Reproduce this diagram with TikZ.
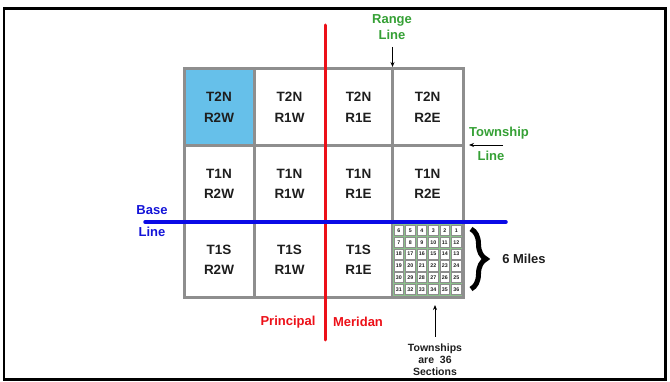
\documentclass[tikz,border=0pt]{standalone}
\usepackage{fontspec}
\setmainfont{Liberation Sans}
\usetikzlibrary{decorations.pathreplacing,arrows.meta}
\definecolor{gridgray}{HTML}{8E8E8E}
\definecolor{cellblue}{HTML}{66C0EA}
\definecolor{lblgreen}{HTML}{35A035}
\definecolor{lblblue}{HTML}{1414D8}
\definecolor{lineblue}{HTML}{0A0AE6}
\definecolor{linered}{HTML}{EC1018}
\definecolor{secgreen}{HTML}{3E9A3E}
\definecolor{txt}{HTML}{1E1E1E}
\tikzset{
  cell/.style={draw=gridgray, line width=3pt, fill=white, inner sep=0pt,
    align=center, text=txt, font=\bfseries\fontsize{13.5}{20.5}\selectfont},
  lbl/.style={inner sep=0pt, font=\bfseries\fontsize{13}{16}\selectfont},
  secbox/.style={draw=gridgray, line width=0.8pt, fill=white, inner sep=0pt,
    minimum width=9.6pt, minimum height=10.2pt,
    font=\bfseries\fontsize{5.3}{5.3}\selectfont, text=txt},
  pointer/.style={-{Stealth[length=5pt,width=4pt]}, line width=0.8pt, black},
}
\begin{document}
\begin{tikzpicture}[x=1pt,y=-1pt]
\useasboundingbox (0,0) rectangle (670,382);
% outer frame
\draw[line width=2.5pt, black] (4,8.5) rectangle (665.5,379.5);

% township cells (columns 184,254,325,392,463; rows 69,146,222,298)
\node[cell, fill=cellblue, minimum width=70pt, minimum height=77pt] (a1) at (219,107.5) {T2N\\R2W};
\node[cell, minimum width=71pt, minimum height=77pt] (a2) at (289.5,107.5) {T2N\\R1W};
\node[cell, minimum width=67pt, minimum height=77pt] (a3) at (358.5,107.5) {T2N\\R1E};
\node[cell, minimum width=71pt, minimum height=77pt] (a4) at (427.5,107.5) {T2N\\R2E};
\node[cell, minimum width=70pt, minimum height=76pt] (b1) at (219,184) {T1N\\R2W};
\node[cell, minimum width=71pt, minimum height=76pt] (b2) at (289.5,184) {T1N\\R1W};
\node[cell, minimum width=67pt, minimum height=76pt] (b3) at (358.5,184) {T1N\\R1E};
\node[cell, minimum width=71pt, minimum height=76pt] (b4) at (427.5,184) {T1N\\R2E};
\node[cell, minimum width=70pt, minimum height=76pt] (c1) at (219,260) {T1S\\R2W};
\node[cell, minimum width=71pt, minimum height=76pt] (c2) at (289.5,260) {T1S\\R1W};
\node[cell, minimum width=67pt, minimum height=76pt] (c3) at (358.5,260) {T1S\\R1E};
\node[cell, minimum width=71pt, minimum height=76pt] (c4) at (427.5,260) {};

% 36 sections inside the T1S R2E township
\fill[secgreen!60!white] (393,224.5) rectangle (462,296.5);
\foreach \r in {0,...,5}{
  \foreach \c in {0,...,5}{
    \pgfmathtruncatemacro{\fwd}{6*\r+\c+1}
    \pgfmathtruncatemacro{\bwd}{6*\r+6-\c}
    \pgfmathtruncatemacro{\isodd}{mod(\r,2)}
    \ifnum\isodd=0 \let\num\bwd \else \let\num\fwd \fi
    \node[secbox] (s\r\c) at ({398.75+11.5*\c},{230.5+11.8*\r}) {\num};
  }
}

% meridian and base line
\coordinate (pmtop) at (325,25);
\coordinate (pmbot) at (325,340);
\draw[linered, line width=3pt, line cap=round] (pmtop) -- (pmbot);
\coordinate (blw) at (145,222);
\coordinate (ble) at (506,222);
\draw[lineblue, line width=3.5pt, line cap=round] (blw) -- (ble);

% labels
\node[lbl, text=lblblue] (base1) at (152,210) {Base};
\node[lbl, text=lblblue] (base2) at (152,232) {Line};
\node[lbl, text=lblgreen, align=center, font=\bfseries\fontsize{13}{16.5}\selectfont] (range) at (392,27) {Range\\Line};
\node[lbl, text=lblgreen] (twp1) at (499,133) {Township};
\node[lbl, text=lblgreen] (twp2) at (491,156) {Line};
\node[lbl, text=linered] (prin) at (288,322) {Principal};
\node[lbl, text=linered] (meri) at (358,322) {Meridan};
\node[lbl, text=txt] (miles) at (524,259) {6 Miles};
\node[inner sep=0pt, align=center, text=txt, font=\bfseries\fontsize{10.5}{11.8}\selectfont] (secs) at (435,360) {Townships\\are \ 36\\Sections};

% pointers
\coordinate (rangetip) at (392.5,67);
\draw[pointer] (392.5,47) -- (rangetip);
\coordinate (twptail) at (503,145);
\coordinate (twptip) at (469,145);
\draw[pointer] (twptail) -- (twptip);
\coordinate (secstail) at (435,337);
\coordinate (secstip) at (435,305);
\draw[pointer] (secstail) -- (secstip);

% six-mile brace
\coordinate (brtop) at (471,229);
\coordinate (brbot) at (471,289);
\draw[line width=5pt, black, decorate,
  decoration={brace, amplitude=15pt, aspect=0.5}] (brtop) -- (brbot);
\end{tikzpicture}
\end{document}
